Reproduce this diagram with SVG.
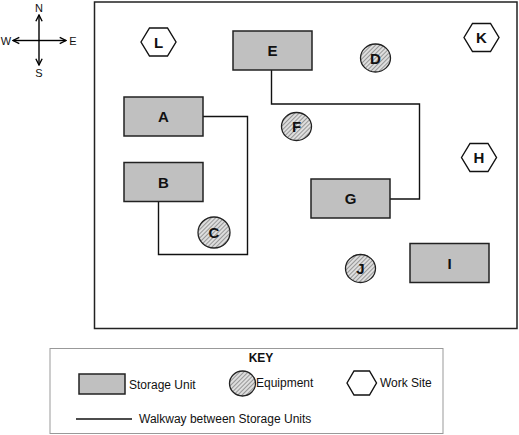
<svg xmlns="http://www.w3.org/2000/svg" width="519" height="435" viewBox="0 0 519 435">
<defs>
<pattern id="hatch" patternUnits="userSpaceOnUse" width="3" height="3" patternTransform="rotate(45)">
<rect width="3" height="3" fill="#dedede"/>
<line x1="0" y1="0" x2="0" y2="3" stroke="#666" stroke-width="1.2"/>
</pattern>
<marker id="arr" viewBox="0 0 8 8" refX="7" refY="4" markerWidth="6" markerHeight="6" orient="auto">
<path d="M1,1 L7,4 L1,7" fill="none" stroke="#000" stroke-width="1.3"/>
</marker>
</defs>
<style>
.unit{fill:#c0c0c0;stroke:#222;stroke-width:1.5}
.equip{fill:url(#hatch);stroke:#222;stroke-width:1.3}
.site{fill:#fff;stroke:#111;stroke-width:1.4}
.lbl{font-family:"Liberation Sans",Arial,sans-serif;font-weight:bold;font-size:15px;text-anchor:middle;fill:#111}
.walk{fill:none;stroke:#111;stroke-width:1.4}
.txt{font-family:"Liberation Sans",Arial,sans-serif;font-size:12px;fill:#111}
.cmp{font-family:"Liberation Sans",Arial,sans-serif;font-size:11px;fill:#111;text-anchor:middle}
</style>
<rect width="519" height="435" fill="#fff"/>
<g id="compass">
<line x1="39" y1="40.5" x2="39" y2="15" stroke="#000" stroke-width="1.4" marker-end="url(#arr)"/>
<line x1="39" y1="40.5" x2="39" y2="65" stroke="#000" stroke-width="1.4" marker-end="url(#arr)"/>
<line x1="39" y1="40.5" x2="13" y2="40.5" stroke="#000" stroke-width="1.4" marker-end="url(#arr)"/>
<line x1="39" y1="40.5" x2="66" y2="40.5" stroke="#000" stroke-width="1.4" marker-end="url(#arr)"/>
<text class="cmp" x="39" y="12">N</text>
<text class="cmp" x="39" y="77">S</text>
<text class="cmp" x="6" y="44.5">W</text>
<text class="cmp" x="73" y="44.5">E</text>
</g>
<rect id="frame" x="94.5" y="2" width="422.5" height="326.5" fill="none" stroke="#222" stroke-width="1.5"/>
<g id="connectors">
<polyline class="walk" points="203,116.5 247.5,116.5 247.5,254.5 158.5,254.5 158.5,201.5"/>
<polyline class="walk" points="271.5,70 271.5,104 419.5,104 419.5,199 390,199"/>
</g>
<g id="A"><rect class="unit" x="124" y="97" width="79" height="39"/><text class="lbl" x="163.5" y="122">A</text></g>
<g id="B"><rect class="unit" x="124" y="162.5" width="79" height="39"/><text class="lbl" x="163.5" y="187.5">B</text></g>
<g id="E"><rect class="unit" x="233" y="31" width="79" height="39"/><text class="lbl" x="272.5" y="56">E</text></g>
<g id="G"><rect class="unit" x="311" y="179" width="79" height="39"/><text class="lbl" x="350.5" y="204">G</text></g>
<g id="I"><rect class="unit" x="410" y="243.5" width="79" height="39"/><text class="lbl" x="449.5" y="268.5">I</text></g>
<g id="C"><ellipse class="equip" cx="214" cy="232.5" rx="16" ry="15.5"/><text class="lbl" x="214" y="238">C</text></g>
<g id="D"><ellipse class="equip" cx="375.5" cy="58" rx="15" ry="14"/><text class="lbl" x="375.5" y="63.5">D</text></g>
<g id="F"><ellipse class="equip" cx="296.5" cy="126.5" rx="15" ry="14"/><text class="lbl" x="296.5" y="132">F</text></g>
<g id="J"><ellipse class="equip" cx="360.5" cy="268.5" rx="15" ry="14"/><text class="lbl" x="360.5" y="274">J</text></g>
<g id="L"><polygon class="site" points="141,42 149.5,28 167.5,28 176,42 167.5,56 149.5,56"/><text class="lbl" x="158.5" y="47.5">L</text></g>
<g id="K"><polygon class="site" points="464,37.5 472.5,23.5 490.5,23.5 499,37.5 490.5,51.5 472.5,51.5"/><text class="lbl" x="481.5" y="43">K</text></g>
<g id="H"><polygon class="site" points="461.5,157.5 470,143.5 488,143.5 496.5,157.5 488,171.5 470,171.5"/><text class="lbl" x="479" y="163">H</text></g>
<g id="key">
<rect x="50" y="348.5" width="393" height="85" fill="#fff" stroke="#999" stroke-width="1"/>
<text x="261" y="362" font-family="'Liberation Sans',Arial,sans-serif" font-weight="bold" font-size="12" text-anchor="middle" fill="#111">KEY</text>
<rect class="unit" x="79" y="374" width="46" height="20"/>
<text class="txt" x="129" y="388.5">Storage Unit</text>
<ellipse class="equip" cx="242.5" cy="383.5" rx="13" ry="12.5"/>
<text class="txt" x="256" y="387">Equipment</text>
<polygon class="site" points="347,383 354,371 369.5,371 376.5,383 369.5,395 354,395"/>
<text class="txt" x="380" y="386.5">Work Site</text>
<line x1="76" y1="419" x2="132" y2="419" stroke="#111" stroke-width="1.4"/>
<text class="txt" x="139" y="423">Walkway between Storage Units</text>
</g>
</svg>
